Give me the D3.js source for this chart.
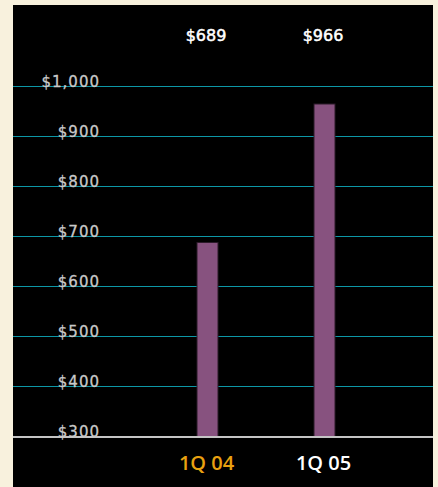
<!DOCTYPE html>
<html>
<head>
<meta charset="utf-8">
<script src="https://cdn.jsdelivr.net/npm/d3@7"></script>
<style>
  html, body { margin: 0; padding: 0; background: #f8f1dd; }
  svg { display: block; }
</style>
</head>
<body>
<div id="chart"></div>
<script>
// Chart data
const categories = ["1Q 04", "1Q 05"];
const values = [689, 966];
const valueLabels = ["$689", "$966"];
const categoryColors = ["#e9a110", "#ffffff"];
const yTicks = [300, 400, 500, 600, 700, 800, 900, 1000];

const W = 438, H = 487;
const panel = {x: 13, y: 5, w: 420, h: 482};

const svg = d3.select("#chart").append("svg")
    .attr("width", W)
    .attr("height", H);

// Black panel
svg.append("rect")
    .attr("x", panel.x)
    .attr("y", panel.y)
    .attr("width", panel.w)
    .attr("height", panel.h)
    .attr("fill", "#000");

const y = d3.scaleLinear()
    .domain([300, 1000])
    .range([437, 87]);

const x = d3.scaleBand()
    .domain(categories)
    .range([149, 383])
    .padding(0);

const barW = 21;

// Gridlines
svg.selectAll(".grid")
    .data(yTicks.filter(d => d > 300))
    .enter()
    .append("line")
    .attr("x1", panel.x)
    .attr("x2", panel.x + panel.w)
    .attr("y1", d => Math.round(y(d)) - 0.5)
    .attr("y2", d => Math.round(y(d)) - 0.5)
    .attr("stroke", "#0d97a6")
    .attr("stroke-width", 1.2);

// Bars
svg.selectAll(".bar")
    .data(values)
    .enter()
    .append("rect")
    .attr("x", (d, i) => x(categories[i]) + x.bandwidth() / 2 - barW / 2)
    .attr("y", d => y(d))
    .attr("width", barW)
    .attr("height", d => y(300) - y(d))
    .attr("fill", "#87527f")
    .attr("stroke", "#2b1a29")
    .attr("stroke-width", 1);

// Baseline
svg.append("line")
    .attr("x1", panel.x)
    .attr("x2", panel.x + panel.w)
    .attr("y1", y(300))
    .attr("y2", y(300))
    .attr("stroke", "#c4c4c4")
    .attr("stroke-width", 2);

// Y tick labels
svg.selectAll(".ytick")
    .data(yTicks)
    .enter()
    .append("text")
    .attr("x", 100)
    .attr("y", d => y(d))
    .attr("text-anchor", "end")
    .attr("font-family", "DejaVu Sans")
    .attr("font-size", 15)
    .attr("letter-spacing", 1)
    .attr("fill", "#c9c9c9")
    .attr("stroke", "#c9c9c9")
    .attr("stroke-width", 0.3)
    .text(d => "$" + d3.format(",")(d));

// Value labels at the top
svg.selectAll(".val")
    .data(valueLabels)
    .enter()
    .append("text")
    .attr("x", (d, i) => x(categories[i]) + x.bandwidth() / 2 - 1.5)
    .attr("y", 41)
    .attr("text-anchor", "middle")
    .attr("font-family", "DejaVu Sans")
    .attr("font-size", 16)
    .attr("fill", "#fff")
    .attr("stroke", "#fff")
    .attr("stroke-width", 0.5)
    .text(d => d);

// Category labels
svg.selectAll(".cat")
    .data(categories)
    .enter()
    .append("text")
    .attr("x", d => x(d) + x.bandwidth() / 2 - 1)
    .attr("y", 470)
    .attr("text-anchor", "middle")
    .attr("font-family", "Open Sans")
    .attr("font-weight", 600)
    .attr("font-size", 20)
    .attr("fill", (d, i) => categoryColors[i])
    .text(d => d);
</script>
</body>
</html>
